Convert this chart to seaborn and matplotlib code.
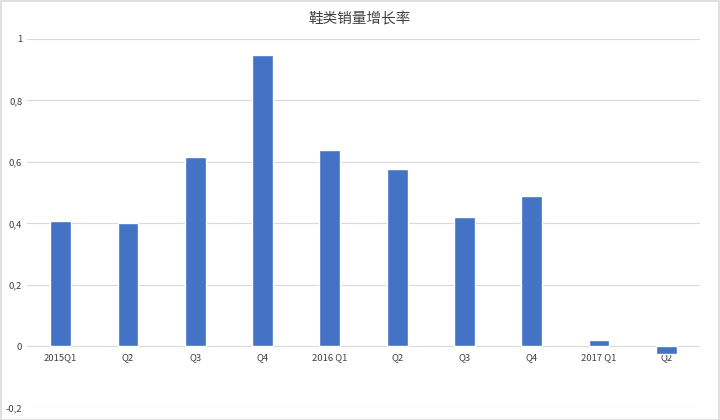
import matplotlib
matplotlib.use("Agg")
import matplotlib.pyplot as plt
import seaborn as sns
import pandas as pd
from matplotlib.patches import Rectangle
from matplotlib.ticker import FuncFormatter

title = "鞋类销量增长率"
quarters = ["2015Q1", "Q2", "Q3", "Q4", "2016 Q1", "Q2", "Q3", "Q4", "2017 Q1", "Q2"]
growth = [0.407, 0.40, 0.615, 0.948, 0.638, 0.578, 0.42, 0.489, 0.02, -0.023]
y_ticks = [-0.2, 0, 0.2, 0.4, 0.6, 0.8, 1.0]


def fmt(v, pos):
    s = f"{v:.1f}".rstrip("0").rstrip(".")
    if s in ("-0", ""):
        s = "0"
    return s.replace(".", ",")


def main():
    sns.set_style("white")
    plt.rcParams["font.family"] = ["Noto Sans CJK SC", "DejaVu Sans"]

    fig = plt.figure(figsize=(7.2, 4.2), dpi=100)
    ax = fig.add_axes([0.0375, 0.0286, 0.9347, 0.8786])

    df = pd.DataFrame({"pos": range(len(quarters)), "growth": growth})
    sns.barplot(data=df, x="pos", y="growth", color="#4472C4", saturation=1,
                width=0.31, ax=ax)

    ax.set_xlim(-0.5, len(quarters) - 0.5)
    ax.set_ylim(-0.2, 1.0)
    ax.set_yticks(y_ticks)
    ax.yaxis.set_major_formatter(FuncFormatter(fmt))
    ax.set_xticks(range(len(quarters)))
    ax.set_xticklabels(quarters)
    ax.grid(axis="y", color="#d9d9d9", linewidth=0.8)
    ax.set_axisbelow(True)
    for s in ax.spines.values():
        s.set_visible(False)
    ax.tick_params(axis="both", length=0, labelsize=6.8, colors="#404040")
    # x labels sit just under the zero line, not at the bottom of the axes
    ax.tick_params(axis="x", pad=-39.5)
    ax.set_xlabel("")
    ax.set_ylabel("")

    fig.text(0.5, 0.955, title, ha="center", va="center", fontsize=10.5, color="#404040")
    fig.patches.append(Rectangle((0.001, 0.001), 0.997, 0.997, transform=fig.transFigure,
                                 fill=False, edgecolor="#d9d9d9", linewidth=1.2))

    fig.savefig("out.png", dpi=100)


if __name__ == "__main__":
    main()
